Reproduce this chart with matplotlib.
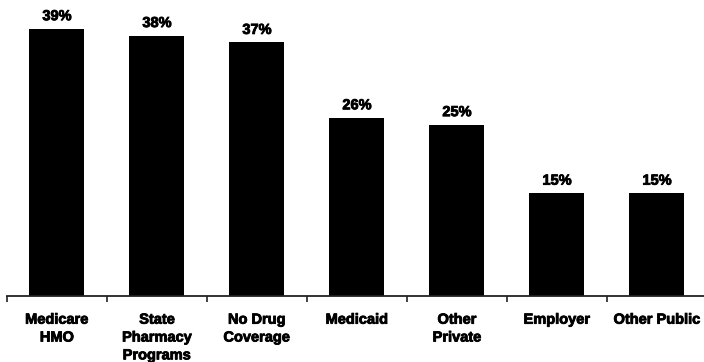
import numpy as np
import matplotlib
matplotlib.use("Agg")
import matplotlib.pyplot as plt
import matplotlib.patheffects as pe
from matplotlib.ticker import FixedLocator, NullFormatter

CATEGORIAS = [
    "Medicare\nHMO",
    "State\nPharmacy\nPrograms",
    "No Drug\nCoverage",
    "Medicaid",
    "Other\nPrivate",
    "Employer",
    "Other Public",
]
VALORES = [39, 38, 37, 26, 25, 15, 15]
ROTULOS = ["39%", "38%", "37%", "26%", "25%", "15%", "15%"]

plt.rcParams["font.family"] = ["Liberation Sans", "DejaVu Sans"]

W, H = 704, 362
BASE = 296  # linha de base em pixels, a partir do topo
fig = plt.figure(figsize=(W / 100, H / 100), dpi=100)
ax = fig.add_axes([7 / W, (H - BASE) / H, 700 / W, BASE / H])

# contorno fino para deixar o texto mais pesado
grosso = [pe.withStroke(linewidth=0.6, foreground="black")]

x = np.arange(len(CATEGORIAS))
ax.bar(x, VALORES, width=0.55, color="black", zorder=2)

for xi, v, txt in zip(x, VALORES, ROTULOS):
    ax.annotate(txt, (xi, v), xytext=(0, 4), textcoords="offset points",
                ha="center", va="bottom", fontsize=10.5, fontweight="bold",
                path_effects=grosso)

ax.set_xlim(-0.5, 6.5)
ax.set_ylim(0, 43.2)

for lado in ("top", "right", "left"):
    ax.spines[lado].set_visible(False)
ax.spines["bottom"].set_linewidth(1.3)
ax.spines["bottom"].set_color("#222222")

ax.set_yticks([])
ax.set_xticks(x)
ax.set_xticklabels(CATEGORIAS, fontsize=10.5, fontweight="bold", linespacing=1.35)
for lbl in ax.get_xticklabels():
    lbl.set_path_effects(grosso)
ax.tick_params(axis="x", which="major", length=0, pad=12)
ax.xaxis.set_minor_locator(FixedLocator(np.arange(-0.5, 7, 1.0)))
ax.xaxis.set_minor_formatter(NullFormatter())
ax.tick_params(axis="x", which="minor", length=4, width=1.2, color="#222222", direction="out")

fig.savefig("out.png", dpi=100)
